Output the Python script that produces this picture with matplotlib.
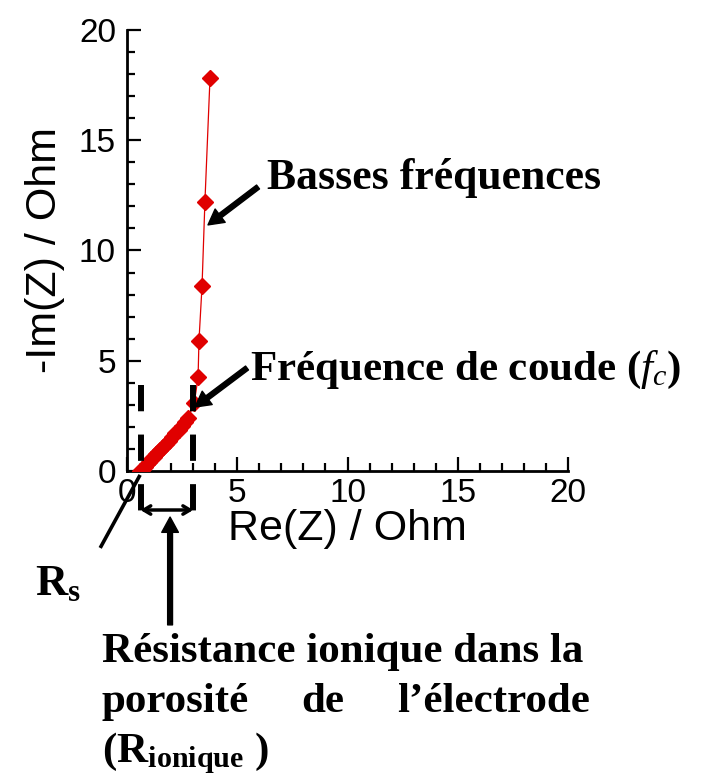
import numpy as np
import matplotlib
matplotlib.use("Agg")
import matplotlib.pyplot as plt
from matplotlib.ticker import MultipleLocator

plt.rcParams['font.family'] = ['Liberation Sans', 'DejaVu Sans']
plt.rcParams['mathtext.fontset'] = 'custom'
plt.rcParams['mathtext.rm'] = 'Liberation Serif:bold'
plt.rcParams['mathtext.bf'] = 'Liberation Serif:bold'
plt.rcParams['mathtext.it'] = 'Liberation Serif:italic'

# Nyquist data (Re(Z), -Im(Z)) in Ohm
re_z = [0.60, 0.70, 0.80, 0.90, 1.00, 1.10, 1.20, 1.30, 1.40, 1.50, 1.62, 1.75,
        1.88, 2.02, 2.18, 2.35, 2.48, 2.62, 2.77, 3.05, 3.22, 3.26, 3.40, 3.53, 3.76]
im_z = [0.00, 0.10, 0.20, 0.32, 0.42, 0.53, 0.64, 0.75, 0.86, 0.97, 1.10, 1.24,
        1.38, 1.53, 1.70, 1.88, 2.02, 2.20, 2.40, 3.10, 4.26, 5.90, 8.40, 12.20, 17.80]

x_ticks = [0, 5, 10, 15, 20]
y_ticks = [0, 5, 10, 15, 20]

# annotation anchors (data units)
rs_x = 0.635          # Rs, left dashed line
rionic_x = 2.97       # end of the ionic-resistance region, right dashed line

fig = plt.figure(figsize=(7.10, 7.83), dpi=100)
ax = fig.add_axes([0.179, 0.3985, 0.621, 0.5632])

ax.plot(re_z, im_z, color='#e00000', lw=0.9, marker='D', ms=8.5,
        markerfacecolor='#e00000', markeredgecolor='#e00000', zorder=3)

ax.set_xlim(0, 20)
ax.set_ylim(0, 20)
ax.set_xticks(x_ticks)
ax.set_yticks(y_ticks)
ax.xaxis.set_minor_locator(MultipleLocator(1))
ax.yaxis.set_minor_locator(MultipleLocator(1))
ax.tick_params(which='major', direction='in', length=10, width=1.6, labelsize=24)
ax.tick_params(axis='x', which='major', pad=5)
ax.tick_params(axis='y', which='major', pad=8)
ax.tick_params(which='minor', direction='in', length=6, width=1.6)
for s in ['top', 'right']:
    ax.spines[s].set_visible(False)
for s in ['left', 'bottom']:
    ax.spines[s].set_linewidth(2)

ax.set_xlabel('Re(Z) / Ohm', fontsize=31, labelpad=0)
ax.set_ylabel('-Im(Z) / Ohm', fontsize=31, labelpad=10)

# dashed limits of the ionic-resistance region
for xv in [rs_x, rionic_x]:
    ax.plot([xv, xv], [3.9, -1.9], color='black', lw=4.3,
            linestyle=(0, (4.4, 3.9)), clip_on=False, zorder=4)

ax.annotate('', xy=(rionic_x + 0.03, -1.77), xytext=(rs_x - 0.03, -1.77),
            arrowprops=dict(arrowstyle='<->,head_length=0.5,head_width=0.3',
                            lw=2.5, color='black', shrinkA=0, shrinkB=0),
            annotation_clip=False)

ax.annotate('', xy=(1.95, -2.09), xytext=(1.95, -6.98),
            arrowprops=dict(facecolor='black', edgecolor='black', width=3.5,
                            headwidth=12, headlength=11, shrink=0),
            annotation_clip=False)

# Rs pointer
ax.plot([-1.22, 0.59], [-3.49, -0.18], color='black', lw=2.6, clip_on=False,
        solid_capstyle='butt')

# pointers to the curve
ax.annotate('', xy=(3.67, 11.16), xytext=(5.94, 12.88),
            arrowprops=dict(facecolor='black', edgecolor='black', width=3.5,
                            headwidth=12, headlength=11, shrink=0))
ax.annotate('', xy=(3.08, 2.90), xytext=(5.44, 4.67),
            arrowprops=dict(facecolor='black', edgecolor='black', width=3.5,
                            headwidth=12, headlength=11, shrink=0),
            annotation_clip=False)

serif = dict(family='Liberation Serif', fontweight='bold', fontsize=31)
W, H = 710.0, 783.0

def ftext(px, py, s, ha='left', size=31):
    kw = dict(serif)
    kw['fontsize'] = size
    fig.text(px / W, 1 - py / H, s, ha=ha, va='baseline', **kw)

ftext(267, 189, 'Basses fréquences', size=31.5)
ftext(250, 380, r'Fréquence de coude ($f_c$)')
ftext(35, 595, r'$\mathbf{R_s}$', size=32)
ftext(102, 662, 'Résistance ionique dans la')
ftext(102, 712, 'porosité')
ftext(323, 712, 'de', ha='center')
ftext(590, 712, 'l\u2019électrode', ha='right')
ftext(102, 762, r'($\mathbf{R_{ionique}}$ )')

fig.savefig('out.png', dpi=100)
